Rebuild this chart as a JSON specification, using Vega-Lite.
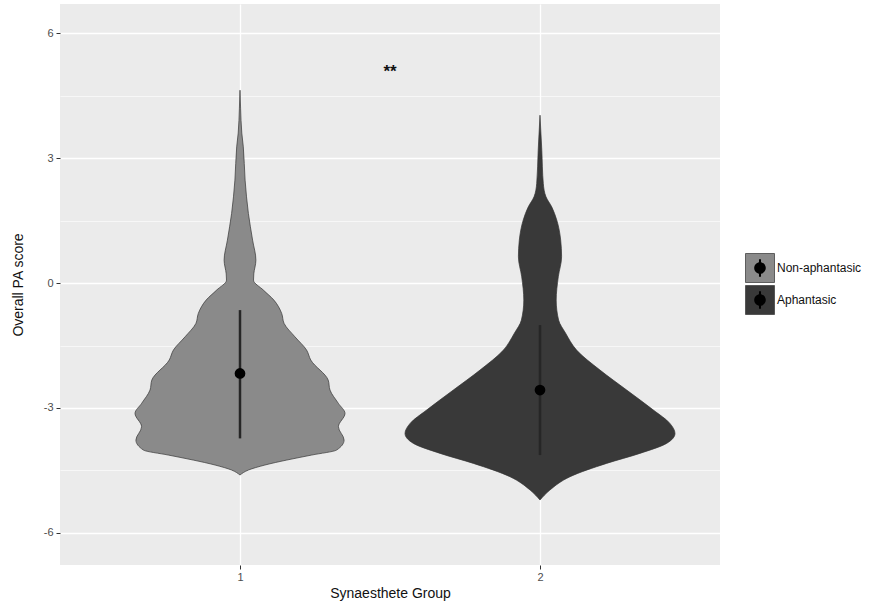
{
  "$schema": "https://vega.github.io/schema/vega-lite/v6.json",
  "width": 660,
  "height": 561,
  "autosize": {"type": "none"},
  "padding": {"left": 60, "top": 4, "right": 168, "bottom": 40},
  "background": "white",
  "config": {
    "view": {"fill": "#EBEBEB", "stroke": null},
    "font": "Liberation Sans",
    "legend": {"padding": 0}
  },
  "datasets": {
    "violin": [
      {"label": "Non-aphantasic", "group": 1, "score": 4.63, "lo": 1.0, "hi": 1.0},
      {"label": "Non-aphantasic", "group": 1, "score": 4.2, "lo": 0.998, "hi": 1.002},
      {"label": "Non-aphantasic", "group": 1, "score": 3.6, "lo": 0.994, "hi": 1.006},
      {"label": "Non-aphantasic", "group": 1, "score": 3.27, "lo": 0.989, "hi": 1.011},
      {"label": "Non-aphantasic", "group": 1, "score": 2.47, "lo": 0.983, "hi": 1.017},
      {"label": "Non-aphantasic", "group": 1, "score": 1.67, "lo": 0.972, "hi": 1.028},
      {"label": "Non-aphantasic", "group": 1, "score": 1.03, "lo": 0.958, "hi": 1.042},
      {"label": "Non-aphantasic", "group": 1, "score": 0.55, "lo": 0.947, "hi": 1.053},
      {"label": "Non-aphantasic", "group": 1, "score": 0.22, "lo": 0.954, "hi": 1.046},
      {"label": "Non-aphantasic", "group": 1, "score": 0.07, "lo": 0.955, "hi": 1.045},
      {"label": "Non-aphantasic", "group": 1, "score": -0.17, "lo": 0.922, "hi": 1.078},
      {"label": "Non-aphantasic", "group": 1, "score": -0.41, "lo": 0.887, "hi": 1.113},
      {"label": "Non-aphantasic", "group": 1, "score": -0.73, "lo": 0.861, "hi": 1.139},
      {"label": "Non-aphantasic", "group": 1, "score": -0.97, "lo": 0.853, "hi": 1.147},
      {"label": "Non-aphantasic", "group": 1, "score": -1.29, "lo": 0.817, "hi": 1.183},
      {"label": "Non-aphantasic", "group": 1, "score": -1.61, "lo": 0.778, "hi": 1.222},
      {"label": "Non-aphantasic", "group": 1, "score": -1.85, "lo": 0.764, "hi": 1.236},
      {"label": "Non-aphantasic", "group": 1, "score": -2.33, "lo": 0.706, "hi": 1.294},
      {"label": "Non-aphantasic", "group": 1, "score": -2.57, "lo": 0.7, "hi": 1.3},
      {"label": "Non-aphantasic", "group": 1, "score": -2.89, "lo": 0.672, "hi": 1.328},
      {"label": "Non-aphantasic", "group": 1, "score": -3.13, "lo": 0.65, "hi": 1.35},
      {"label": "Non-aphantasic", "group": 1, "score": -3.45, "lo": 0.672, "hi": 1.328},
      {"label": "Non-aphantasic", "group": 1, "score": -3.77, "lo": 0.653, "hi": 1.347},
      {"label": "Non-aphantasic", "group": 1, "score": -4.01, "lo": 0.678, "hi": 1.322},
      {"label": "Non-aphantasic", "group": 1, "score": -4.13, "lo": 0.761, "hi": 1.239},
      {"label": "Non-aphantasic", "group": 1, "score": -4.25, "lo": 0.844, "hi": 1.156},
      {"label": "Non-aphantasic", "group": 1, "score": -4.37, "lo": 0.917, "hi": 1.083},
      {"label": "Non-aphantasic", "group": 1, "score": -4.49, "lo": 0.972, "hi": 1.028},
      {"label": "Non-aphantasic", "group": 1, "score": -4.61, "lo": 1.0, "hi": 1.0},
      {"label": "Aphantasic", "group": 2, "score": 4.03, "lo": 2.0, "hi": 2.0},
      {"label": "Aphantasic", "group": 2, "score": 3.19, "lo": 1.994, "hi": 2.006},
      {"label": "Aphantasic", "group": 2, "score": 2.39, "lo": 1.989, "hi": 2.011},
      {"label": "Aphantasic", "group": 2, "score": 2.07, "lo": 1.98, "hi": 2.02},
      {"label": "Aphantasic", "group": 2, "score": 1.83, "lo": 1.961, "hi": 2.039},
      {"label": "Aphantasic", "group": 2, "score": 1.51, "lo": 1.944, "hi": 2.056},
      {"label": "Aphantasic", "group": 2, "score": 1.03, "lo": 1.931, "hi": 2.069},
      {"label": "Aphantasic", "group": 2, "score": 0.63, "lo": 1.928, "hi": 2.072},
      {"label": "Aphantasic", "group": 2, "score": 0.15, "lo": 1.939, "hi": 2.061},
      {"label": "Aphantasic", "group": 2, "score": -0.41, "lo": 1.946, "hi": 2.054},
      {"label": "Aphantasic", "group": 2, "score": -0.89, "lo": 1.938, "hi": 2.062},
      {"label": "Aphantasic", "group": 2, "score": -1.2, "lo": 1.915, "hi": 2.085},
      {"label": "Aphantasic", "group": 2, "score": -1.61, "lo": 1.878, "hi": 2.122},
      {"label": "Aphantasic", "group": 2, "score": -2.09, "lo": 1.8, "hi": 2.2},
      {"label": "Aphantasic", "group": 2, "score": -2.57, "lo": 1.711, "hi": 2.289},
      {"label": "Aphantasic", "group": 2, "score": -3.05, "lo": 1.622, "hi": 2.378},
      {"label": "Aphantasic", "group": 2, "score": -3.37, "lo": 1.567, "hi": 2.433},
      {"label": "Aphantasic", "group": 2, "score": -3.61, "lo": 1.55, "hi": 2.45},
      {"label": "Aphantasic", "group": 2, "score": -3.85, "lo": 1.578, "hi": 2.422},
      {"label": "Aphantasic", "group": 2, "score": -4.09, "lo": 1.667, "hi": 2.333},
      {"label": "Aphantasic", "group": 2, "score": -4.33, "lo": 1.778, "hi": 2.222},
      {"label": "Aphantasic", "group": 2, "score": -4.65, "lo": 1.9, "hi": 2.1},
      {"label": "Aphantasic", "group": 2, "score": -4.97, "lo": 1.967, "hi": 2.033},
      {"label": "Aphantasic", "group": 2, "score": -5.21, "lo": 2.0, "hi": 2.0}
    ],
    "summary": [
      {"group": 1, "key": "g1", "mean": -2.17, "lo": -0.65, "hi": -3.73},
      {"group": 2, "key": "g2", "mean": -2.57, "lo": -1.01, "hi": -4.13}
    ],
    "annot": [
      {"x": 1.5, "y": 5.16, "t": "**"}
    ]
  },
  "layer": [
    {
      "data": {"name": "violin"},
      "mark": {"type": "area", "orient": "horizontal", "interpolate": "monotone", "stroke": "#333333", "strokeWidth": 0.7},
      "encoding": {
        "y": {
          "field": "score", "type": "quantitative",
          "scale": {"domain": [-6.77, 6.7], "nice": false, "zero": false},
          "axis": {
            "title": "Overall PA score",
            "values": [-6, -4.5, -3, -1.5, 0, 1.5, 3, 4.5, 6],
            "labelExpr": "datum.value % 3 === 0 ? '' + datum.value : ''",
            "domain": false,
            "grid": true,
            "gridColor": "white",
            "gridWidth": {"condition": {"test": "datum.value % 3 !== 0", "value": 0.6}, "value": 1.3},
            "tickColor": "#333333",
            "tickOpacity": {"condition": {"test": "datum.value % 3 !== 0", "value": 0}, "value": 1},
            "tickSize": 4,
            "tickWidth": 1,
            "labelColor": "#4D4D4D",
            "labelFontSize": 11,
            "labelPadding": 3,
            "titleFontSize": 14,
            "titleFontWeight": "normal",
            "titleColor": "#111111",
            "titlePadding": 18
          }
        },
        "x": {
          "field": "lo", "type": "quantitative", "stack": null,
          "scale": {"domain": [0.4, 2.6], "nice": false, "zero": false},
          "axis": {
            "title": "Synaesthete Group",
            "values": [1, 2],
            "format": "d",
            "domain": false,
            "grid": true,
            "gridColor": "white",
            "gridWidth": 1.3,
            "tickColor": "#333333",
            "tickSize": 4,
            "labelColor": "#4D4D4D",
            "labelFontSize": 11,
            "labelPadding": 2,
            "titleFontSize": 14,
            "titleFontWeight": "normal",
            "titleColor": "#111111",
            "titlePadding": 4
          }
        },
        "x2": {"field": "hi"},
        "fill": {
          "field": "label", "type": "nominal",
          "scale": {"domain": ["Non-aphantasic", "Aphantasic"], "range": ["#8a8a8a", "#393939"]},
          "legend": {
            "title": null,
            "orient": "none",
            "legendX": 685,
            "legendY": 249,
            "symbolType": "square",
            "symbolSize": 841,
            "symbolStrokeColor": "#444444",
            "symbolStrokeWidth": 0.8,
            "symbolOpacity": 1,
            "rowPadding": -6,
            "labelFontSize": 12,
            "labelColor": "#111111",
            "labelOffset": 2
          }
        }
      }
    },
    {
      "data": {"name": "summary"},
      "mark": {"type": "rule", "strokeWidth": 2.5, "color": "#262626"},
      "encoding": {
        "x": {"field": "group", "type": "quantitative"},
        "y": {"field": "lo", "type": "quantitative"},
        "y2": {"field": "hi"}
      }
    },
    {
      "data": {"name": "summary"},
      "mark": {"type": "point", "filled": true, "shape": "circle", "size": 115, "color": "black", "opacity": 1},
      "encoding": {
        "x": {"field": "group", "type": "quantitative"},
        "y": {"field": "mean", "type": "quantitative"}
      }
    },
    {
      "data": {"name": "summary"},
      "mark": {"type": "point", "filled": true, "size": 841, "opacity": 0, "color": "black"},
      "encoding": {
        "x": {"field": "group", "type": "quantitative"},
        "y": {"field": "mean", "type": "quantitative"},
        "shape": {
          "field": "key", "type": "nominal",
          "scale": {
            "domain": ["g1", "g2"],
            "range": [
              "M-1,-1L-1,-1Z M1,1L1,1Z M0.4,0A0.4,0.4 0 1,1 -0.4,0A0.4,0.4 0 1,1 0.4,0Z M-0.07,-0.6L0.07,-0.6L0.07,0.6L-0.07,0.6Z",
              "M-1,-1L-1,-1Z M1,1L1,1Z M0.4,0A0.4,0.4 0 1,1 -0.4,0A0.4,0.4 0 1,1 0.4,0Z M-0.07,-0.6L0.07,-0.6L0.07,0.6L-0.07,0.6Z"
            ]
          },
          "legend": {
            "title": null,
            "orient": "none",
            "legendX": 685,
            "legendY": 249,
            "symbolSize": 841,
            "symbolFillColor": "black",
            "symbolStrokeWidth": 0.8,
            "symbolStrokeColor": "transparent",
            "symbolOpacity": 1,
            "labelExpr": "''",
            "rowPadding": -6,
            "labelFontSize": 12,
            "labelOffset": 2
          }
        }
      }
    },
    {
      "data": {"name": "annot"},
      "mark": {"type": "text", "fontSize": 17, "fontWeight": "bold", "baseline": "middle", "dy": 4, "color": "#111111"},
      "encoding": {
        "x": {"field": "x", "type": "quantitative"},
        "y": {"field": "y", "type": "quantitative"},
        "text": {"field": "t"}
      }
    }
  ]
}
